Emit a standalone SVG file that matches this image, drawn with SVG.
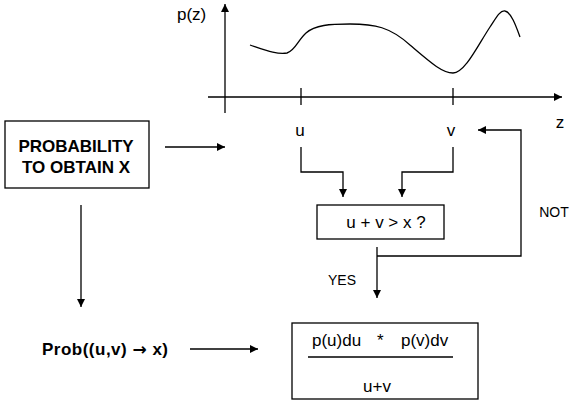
<svg xmlns="http://www.w3.org/2000/svg" width="571" height="403" viewBox="0 0 571 403">
<defs>
<marker id="ah" viewBox="0 0 10 10" refX="10" refY="5" markerWidth="9" markerHeight="8" markerUnits="userSpaceOnUse" orient="auto">
<path d="M0,0 L10,5 L0,10 Z" fill="#000"/>
</marker>
</defs>
<style>
text{font-family:"Liberation Sans",Arial,sans-serif;fill:#000}
.t{font-size:17px}
.s{font-size:14px}
.b{font-size:17px;font-weight:bold}
.ln{fill:none;stroke:#000;stroke-width:1.3}
.box{fill:#fff;stroke:#000;stroke-width:1.3}
.c{text-anchor:middle}
.arr{font-family:"DejaVu Sans",sans-serif}
</style>
<rect width="571" height="403" fill="#fff"/>
<g id="graph">
<line class="ln" x1="225" y1="113" x2="225" y2="4" marker-end="url(#ah)"/>
<line class="ln" x1="208" y1="97" x2="562" y2="97" marker-end="url(#ah)"/>
<line class="ln" x1="301" y1="88" x2="301" y2="105"/>
<line class="ln" x1="453" y1="88" x2="453" y2="105"/>
<path class="ln" stroke="#444" d="M250,45 C265,50 278,55 287,53 C295,51 298,40 306,33 C315,25 330,24 350,24 C375,24 390,27 410,45 C430,62 442,73 453,73 C465,73 478,45 490,27 C496,18 500,10 505,11 C511,12 516,26 520,37"/>
<text class="t" x="177" y="20">p(z)</text>
<text class="t c" x="560" y="128">z</text>
<text class="t c" x="300" y="136">u</text>
<text class="t c" x="451" y="136">v</text>
</g>
<g id="prob-box">
<rect class="box" x="5" y="121" width="144" height="67"/>
<text class="b c" x="76" y="152">PROBABILITY</text>
<text class="b c" x="76" y="173">TO OBTAIN X</text>
</g>
<g id="test-box">
<rect class="box" x="317" y="205" width="127" height="34"/>
<text class="t c" x="386" y="228">u + v &gt; x ?</text>
</g>
<g id="prob-label">
<text class="b" x="42" y="355" textLength="126" lengthAdjust="spacing">Prob((u,v) <tspan class="arr">→</tspan> x)</text>
</g>
<g id="formula-box">
<rect class="box" x="292" y="323" width="186" height="76"/>
<text class="t" y="346"><tspan x="312">p(u)du</tspan><tspan x="377">*</tspan><tspan x="401">p(v)dv</tspan></text>
<line class="ln" x1="308" y1="357" x2="453" y2="357"/>
<text class="t c" x="377" y="392">u+v</text>
</g>
<g id="connectors">
<line class="ln" x1="165" y1="147" x2="225" y2="147" marker-end="url(#ah)"/>
<line class="ln" x1="81" y1="205" x2="81" y2="307" marker-end="url(#ah)"/>
<line class="ln" x1="190" y1="349" x2="258" y2="349" marker-end="url(#ah)"/>
<polyline class="ln" points="301,147 301,172 343,172 343,197" marker-end="url(#ah)"/>
<polyline class="ln" points="453,147 453,172 402,172 402,197" marker-end="url(#ah)"/>
<line class="ln" x1="377" y1="247" x2="377" y2="298" marker-end="url(#ah)"/>
<polyline class="ln" points="377,256 521,256 521,130 478,130" marker-end="url(#ah)"/>
<text class="s c" x="554" y="217">NOT</text>
<text class="s c" x="342" y="285">YES</text>
</g>
</svg>
